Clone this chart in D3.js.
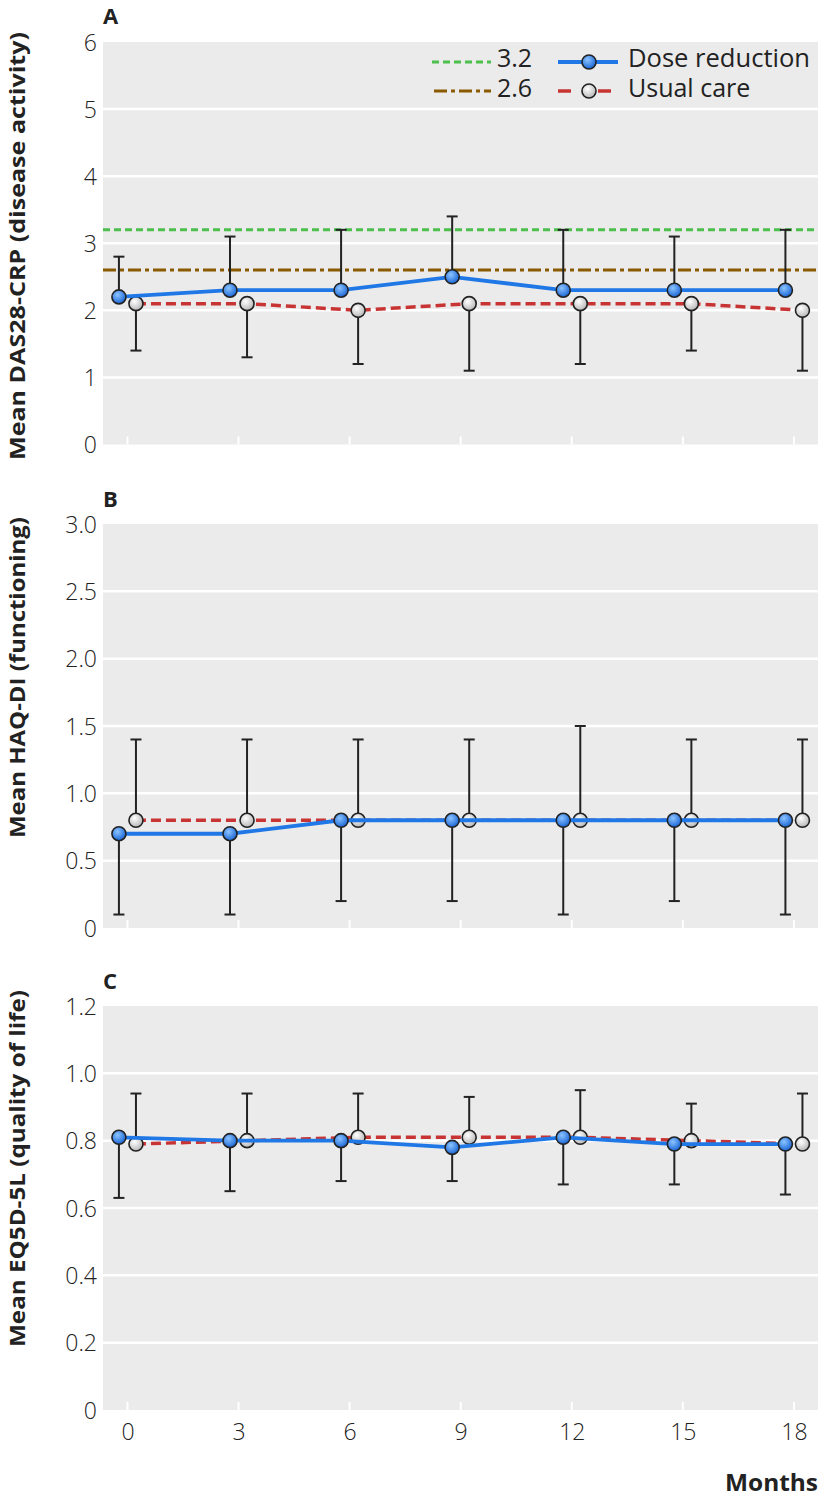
<!DOCTYPE html>
<html><head><meta charset="utf-8">
<script src="https://cdn.jsdelivr.net/npm/d3@7"></script>
<style>
body{margin:0;background:#fff;}
text{font-family:"Open Sans","Noto Sans",sans-serif;}
</style></head>
<body><svg id="chart" width="824" height="1500"></svg>
<script>
const months = [0, 3, 6, 9, 12, 15, 18];
const xTickLabels = ["0", "3", "6", "9", "12", "15", "18"];

// Panel A: DAS28-CRP
const dasDose = [2.2, 2.3, 2.3, 2.5, 2.3, 2.3, 2.3];
const dasDoseUpper = [2.8, 3.1, 3.2, 3.4, 3.2, 3.1, 3.2];
const dasUsual = [2.1, 2.1, 2.0, 2.1, 2.1, 2.1, 2.0];
const dasUsualLower = [1.4, 1.3, 1.2, 1.1, 1.2, 1.4, 1.1];
const dasTicks = [0, 1, 2, 3, 4, 5, 6];
const dasTickLabels = ["0", "1", "2", "3", "4", "5", "6"];
const refLines = [3.2, 2.6];

// Panel B: HAQ-DI
const haqDose = [0.7, 0.7, 0.8, 0.8, 0.8, 0.8, 0.8];
const haqDoseLower = [0.1, 0.1, 0.2, 0.2, 0.1, 0.2, 0.1];
const haqUsual = [0.8, 0.8, 0.8, 0.8, 0.8, 0.8, 0.8];
const haqUsualUpper = [1.4, 1.4, 1.4, 1.4, 1.5, 1.4, 1.4];
const haqTicks = [0, 0.5, 1.0, 1.5, 2.0, 2.5, 3.0];
const haqTickLabels = ["0", "0.5", "1.0", "1.5", "2.0", "2.5", "3.0"];

// Panel C: EQ5D-5L
const eqDose = [0.81, 0.80, 0.80, 0.78, 0.81, 0.79, 0.79];
const eqDoseLower = [0.63, 0.65, 0.68, 0.68, 0.67, 0.67, 0.64];
const eqUsual = [0.79, 0.80, 0.81, 0.81, 0.81, 0.80, 0.79];
const eqUsualUpper = [0.94, 0.94, 0.94, 0.93, 0.95, 0.91, 0.94];
const eqTicks = [0, 0.2, 0.4, 0.6, 0.8, 1.0, 1.2];
const eqTickLabels = ["0", "0.2", "0.4", "0.6", "0.8", "1.0", "1.2"];

const svg = d3.select("#chart");
const defs = svg.append("defs");
const gb = defs.append("radialGradient").attr("id","gBlue").attr("cx","40%").attr("cy","35%").attr("r","65%");
gb.append("stop").attr("offset","0%").attr("stop-color","#8cc4ff");
gb.append("stop").attr("offset","100%").attr("stop-color","#1a66d6");
const gw = defs.append("radialGradient").attr("id","gWhite").attr("cx","40%").attr("cy","35%").attr("r","65%");
gw.append("stop").attr("offset","0%").attr("stop-color","#ffffff");
gw.append("stop").attr("offset","100%").attr("stop-color","#b8b8b8");

const X0 = 103, X1 = 818;
const x = d3.scaleLinear().domain([-0.66, 18.65]).range([X0, X1]);
const off = 0.23;
const blue = "#1f78e6", red = "#c83434", green = "#4cbf4c", brown = "#8a5a00", ink = "#222";
const R = 7;

const panels = [
  {letter:"A", top:42, bottom:444.5, domain:[0,6], ticks:dasTicks, labels:dasTickLabels,
   dose:dasDose, doseBar:dasDoseUpper, usual:dasUsual, usualBar:dasUsualLower,
   title:"Mean DAS28-CRP (disease activity)", tBottom:460, tTop:32, letterY:24, refs:true},
  {letter:"B", top:524, bottom:928, domain:[0,3], ticks:haqTicks, labels:haqTickLabels,
   dose:haqDose, doseBar:haqDoseLower, usual:haqUsual, usualBar:haqUsualUpper,
   title:"Mean HAQ-DI (functioning)", tBottom:838, tTop:517, letterY:507},
  {letter:"C", top:1006, bottom:1410, domain:[0,1.2], ticks:eqTicks, labels:eqTickLabels,
   dose:eqDose, doseBar:eqDoseLower, usual:eqUsual, usualBar:eqUsualUpper,
   title:"Mean EQ5D-5L (quality of life)", tBottom:1347, tTop:990, letterY:989, last:true}
];

panels.forEach(p => {
  const y = d3.scaleLinear().domain(p.domain).range([p.bottom, p.top]);
  const g = svg.append("g");
  g.append("rect").attr("x",X0).attr("y",p.top).attr("width",X1-X0).attr("height",p.bottom-p.top).attr("fill","#ebebeb");
  g.selectAll(".grid").data(p.ticks.slice(1,-1)).join("line")
    .attr("x1",X0).attr("x2",X1).attr("y1",d=>y(d)).attr("y2",d=>y(d))
    .attr("stroke","#fff").attr("stroke-width",2.5);
  g.selectAll(".xt").data(months).join("line")
    .attr("x1",d=>x(d)).attr("x2",d=>x(d)).attr("y1",p.bottom-8).attr("y2",p.bottom)
    .attr("stroke","#fff").attr("stroke-width",2);
  const yAxis = d3.axisLeft(y).tickValues(p.ticks).tickFormat((d,i)=>p.labels[i]).tickSize(0).tickPadding(6);
  const ya = g.append("g").attr("transform",`translate(${X0},0)`).call(yAxis);
  ya.select(".domain").remove();
  ya.selectAll("text").attr("font-size",23).attr("fill","#222").attr("font-weight",300)
    .attr("font-family","'Open Sans',sans-serif").attr("dy","0.36em");
  g.append("text").attr("x",X0).attr("y",p.letterY).attr("font-size",22).attr("font-weight",700)
    .attr("fill","#222").text(p.letter);
  g.append("text").attr("transform",`translate(25,${p.tBottom}) rotate(-90)`)
    .attr("font-size",22).attr("font-weight",700).attr("fill","#222")
    .attr("textLength",p.tBottom-p.tTop).attr("lengthAdjust","spacingAndGlyphs")
    .text(p.title);
  if (p.refs) {
    g.append("line").attr("x1",X0).attr("x2",X1).attr("y1",y(refLines[0])).attr("y2",y(refLines[0]))
      .attr("stroke",green).attr("stroke-width",3).attr("stroke-dasharray","7,4");
    g.append("line").attr("x1",X0).attr("x2",X1).attr("y1",y(refLines[1])).attr("y2",y(refLines[1]))
      .attr("stroke",brown).attr("stroke-width",3).attr("stroke-dasharray","13,4,4,4");
  }
  const bars = [
    ...months.map((m,i)=>({xm:m-off, a:p.dose[i], b:p.doseBar[i]})),
    ...months.map((m,i)=>({xm:m+off, a:p.usual[i], b:p.usualBar[i]}))
  ];
  g.selectAll(".eb").data(bars).join("line")
    .attr("x1",d=>x(d.xm)).attr("x2",d=>x(d.xm)).attr("y1",d=>y(d.a)).attr("y2",d=>y(d.b))
    .attr("stroke",ink).attr("stroke-width",2);
  g.selectAll(".ec").data(bars).join("line")
    .attr("x1",d=>x(d.xm)-5.5).attr("x2",d=>x(d.xm)+5.5).attr("y1",d=>y(d.b)).attr("y2",d=>y(d.b))
    .attr("stroke",ink).attr("stroke-width",2);
  const line = d3.line().x(d=>x(d[0])).y(d=>y(d[1]));
  g.append("path").datum(months.map((m,i)=>[m+off,p.usual[i]])).attr("d",line)
    .attr("fill","none").attr("stroke",red).attr("stroke-width",3.5).attr("stroke-dasharray","10,5");
  g.selectAll(".mu").data(months.map((m,i)=>[m+off,p.usual[i]])).join("circle")
    .attr("cx",d=>x(d[0])).attr("cy",d=>y(d[1])).attr("r",R)
    .attr("fill","url(#gWhite)").attr("stroke",ink).attr("stroke-width",1.6);
  g.append("path").datum(months.map((m,i)=>[m-off,p.dose[i]])).attr("d",line)
    .attr("fill","none").attr("stroke",blue).attr("stroke-width",3.8);
  g.selectAll(".md").data(months.map((m,i)=>[m-off,p.dose[i]])).join("circle")
    .attr("cx",d=>x(d[0])).attr("cy",d=>y(d[1])).attr("r",R)
    .attr("fill","url(#gBlue)").attr("stroke",ink).attr("stroke-width",1.6);

  if (p.last) {
    const xAxis = d3.axisBottom(x).tickValues(months).tickFormat((d,i)=>xTickLabels[i]).tickSize(0).tickPadding(14);
    const xa = g.append("g").attr("transform",`translate(0,${p.bottom})`).call(xAxis);
    xa.select(".domain").remove();
    xa.selectAll("text").attr("font-size",23).attr("fill","#222").attr("font-weight",300)
      .attr("font-family","'Open Sans',sans-serif");
    g.append("text").attr("x",818).attr("y",1491).attr("text-anchor","end")
      .attr("font-size",24).attr("font-weight",700).attr("fill","#222")
      .attr("textLength",93).attr("lengthAdjust","spacingAndGlyphs").text("Months");
  }

  if (p.refs) {
    const lg = g.append("g");
    const rows = [62, 91];
    lg.append("line").attr("x1",432).attr("x2",491).attr("y1",rows[0]).attr("y2",rows[0])
      .attr("stroke",green).attr("stroke-width",3).attr("stroke-dasharray","7,4");
    lg.append("line").attr("x1",432).attr("x2",491).attr("y1",rows[1]).attr("y2",rows[1])
      .attr("stroke",brown).attr("stroke-width",3).attr("stroke-dasharray","13,4,4,4").attr("stroke-dashoffset",-2);
    lg.append("text").attr("x",497).attr("y",rows[0]+4.5).attr("font-size",25).attr("fill","#222").text(refLines[0].toFixed(1));
    lg.append("text").attr("x",497).attr("y",rows[1]+5.5).attr("font-size",25).attr("fill","#222").text(refLines[1].toFixed(1));
    lg.append("line").attr("x1",558).attr("x2",618).attr("y1",rows[0]).attr("y2",rows[0])
      .attr("stroke",blue).attr("stroke-width",3.8);
    lg.append("circle").attr("cx",589).attr("cy",rows[0]).attr("r",R)
      .attr("fill","url(#gBlue)").attr("stroke",ink).attr("stroke-width",1.6);
    lg.append("line").attr("x1",558).attr("x2",620).attr("y1",rows[1]).attr("y2",rows[1])
      .attr("stroke",red).attr("stroke-width",3.5).attr("stroke-dasharray","13,9,0,18,13");
    lg.append("circle").attr("cx",589).attr("cy",rows[1]).attr("r",R)
      .attr("fill","url(#gWhite)").attr("stroke",ink).attr("stroke-width",1.6);
    lg.append("text").attr("x",628).attr("y",rows[0]+4.5).attr("font-size",25).attr("fill","#222")
      .attr("textLength",182).attr("lengthAdjust","spacingAndGlyphs").text("Dose reduction");
    lg.append("text").attr("x",628).attr("y",rows[1]+5.5).attr("font-size",25).attr("fill","#222").text("Usual care");
  }
});
</script></body></html>
